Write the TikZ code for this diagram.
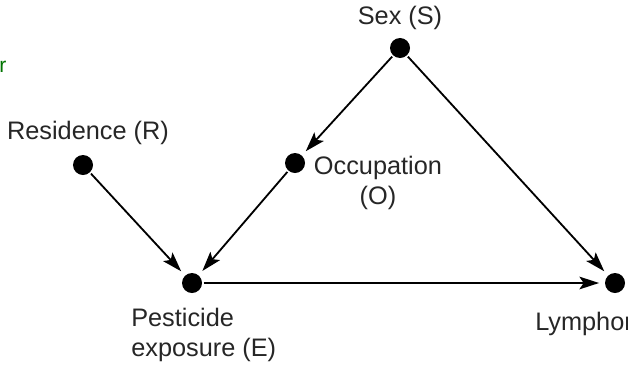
\documentclass[tikz,border=0pt]{standalone}
\usepackage{fontspec}
\setmainfont{Liberation Sans}
\usepackage{tikz}
\usetikzlibrary{arrows.meta,positioning}

\begin{document}
\begin{tikzpicture}[x=0.025cm,y=-0.025cm,
  dot/.style={circle,fill=black,inner sep=0pt,minimum size=0.5cm},
  lbl/.style={text=black!85,font=\fontsize{18}{21.5}\selectfont,inner sep=0pt,align=center},
  arr/.style={-{Stealth[length=14pt,width=9pt,inset=3pt]},line width=1.3pt,shorten >=4pt,shorten <=1pt}]
  \useasboundingbox (0,0) rectangle (628,368);
  \clip (0,0) rectangle (628,368);

  \node[dot] (S) at (400,48) {};
  \node[dot] (O) at (295,163) {};
  \node[dot] (R) at (83,165) {};
  \node[dot] (E) at (192,283) {};
  \node[dot] (L) at (615,283) {};

  \node[lbl] (Slab) at (400,18) {Sex (S)};
  \node[lbl] (Olab) at (378,183) {Occupation\\(O)};
  \node[lbl] (Rlab) at (88,133) {Residence (R)};
  \node[lbl,align=left,anchor=north west] (Elab) at (131,308) {Pesticide\\exposure (E)};
  \node[lbl,anchor=north west] (Llab) at (535,312) {Lymphoma};
  \node[text=green!45!black,font=\fontsize{15}{17}\selectfont,inner sep=0pt] (cut) at (3,67) {r};

  \draw[arr] (S) -- (O);
  \draw[arr] (S) -- (L);
  \draw[arr] (R) -- (E);
  \draw[arr] (O) -- (E);
  \draw[arr] (E) -- (L);
\end{tikzpicture}
\end{document}
